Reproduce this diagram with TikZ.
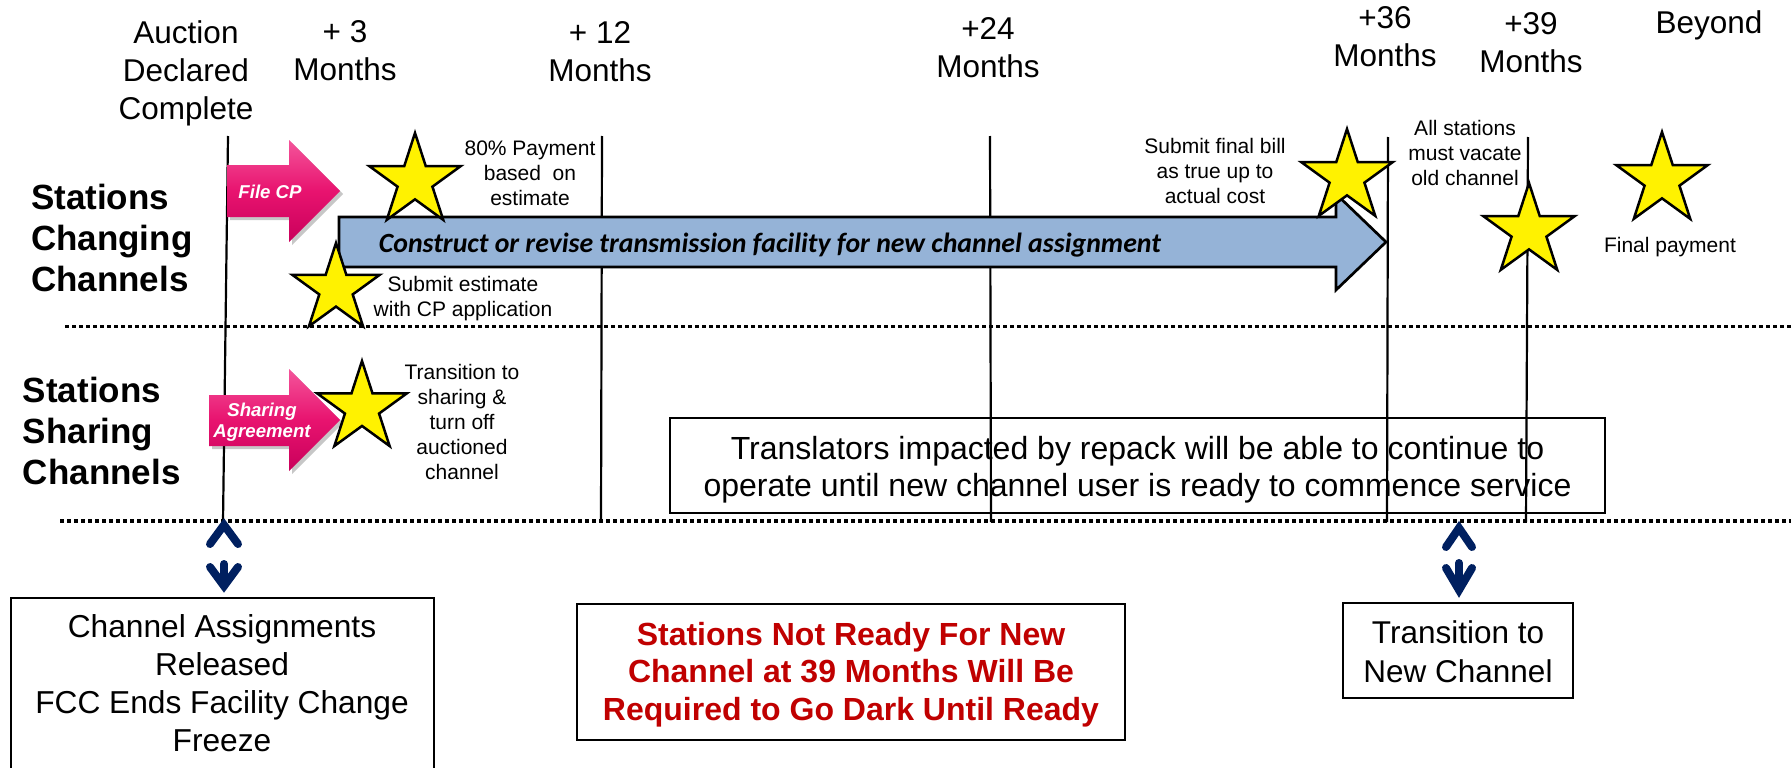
\documentclass[tikz,border=0pt]{standalone}
\usepackage{fontspec}
\setmainfont{Liberation Sans}
\newfontfamily\carlito{Carlito}
\usetikzlibrary{shapes.geometric}
\definecolor{navy}{HTML}{002060}
\definecolor{redtxt}{HTML}{C00000}
\definecolor{bluefill}{HTML}{95B3D7}
\definecolor{pinkA}{HTML}{F4559B}
\definecolor{pinkB}{HTML}{E8136F}
\definecolor{pinkC}{HTML}{C9005B}
\begin{document}
\begin{tikzpicture}[x=1pt,y=-1pt,
 every node/.style={inner sep=0pt,outer sep=0pt},
 toplbl/.style={align=center,anchor=north,font=\fontsize{31.5}{38}\selectfont,execute at begin node=\strut},
 rowlbl/.style={align=left,anchor=north west,font=\bfseries\fontsize{35}{41}\selectfont,execute at begin node=\strut},
 note/.style={align=center,anchor=north,font=\fontsize{21}{25}\selectfont,execute at begin node=\strut},
 boxtxt/.style={align=center,anchor=north,font=\fontsize{32}{37}\selectfont,execute at begin node=\strut},
 frame/.style={draw=black,line width=2.7pt,fill=white,rectangle},
 tline/.style={line width=2.2pt,draw=black},
 dotline/.style={line width=3.5pt,dash pattern=on 3.5pt off 3.5pt,draw=black},
 starnode/.style={star,star points=5,star point ratio=2.618,draw=black,line width=2.5pt,fill=yellow,minimum size=96pt},
 navyarr/.style={draw=navy,line width=8pt,line cap=round,line join=miter},
 pinkfill/.style={top color=pinkA,bottom color=pinkC,middle color=pinkB},
 bluearr/.style={draw=black,line width=2.7pt,fill=bluefill},
 pinktxt/.style={text=white,font=\bfseries\itshape\fontsize{18.6}{21}\selectfont,align=center}
]
\useasboundingbox (0,0) rectangle (1791,768);
\clip (0,0) rectangle (1791,768);

% translators box (under the timeline lines)
\node[frame,minimum width=935pt,minimum height=95pt] (btrans) at (1137.5,465.5) {};

% timeline lines
\coordinate (l0t) at (228,136);  \coordinate (l0b) at (223,522);
\coordinate (l12t) at (602,136); \coordinate (l12b) at (601,522);
\coordinate (l24t) at (990,136); \coordinate (l24b) at (991,522);
\coordinate (l36t) at (1388,137); \coordinate (l36b) at (1387,522);
\coordinate (l39t) at (1528,137); \coordinate (l39b) at (1526,522);
\draw[tline] (l0t) -- (l0b);
\draw[tline] (l12t) -- (l12b);
\draw[tline] (l24t) -- (l24b);
\draw[tline] (l36t) -- (l36b);
\draw[tline] (l39t) -- (l39b);

% dotted separators
\coordinate (d1a) at (65,326.5);  \coordinate (d1b) at (1791,326.5);
\coordinate (d2a) at (60,521);    \coordinate (d2b) at (1791,521);
\draw[dotline] (d1a) -- (d1b);
\draw[dotline] (d2a) -- (d2b);

% blue arrow
\draw[bluearr] (339,217) -- (1336,217) -- (1336,194) -- (1386,242) -- (1336,290) -- (1336,267) -- (339,267) -- cycle;
\node[anchor=base,font=\carlito\bfseries\itshape\fontsize{27.8}{32}\selectfont] (blue) at (770,252) {Construct or revise transmission facility for new channel assignment};

% pink arrows with shadow
\fill[black,opacity=0.22] (230,168) -- (292,168) -- (292,143) -- (343,194) -- (292,245) -- (292,220) -- (230,220) -- cycle;
\shade[pinkfill] (227,165) -- (289,165) -- (289,140) -- (340,191) -- (289,242) -- (289,217) -- (227,217) -- cycle;
\node[pinktxt,anchor=base] (filecp) at (270,198) {File CP};
\fill[black,opacity=0.22] (212,398) -- (292,398) -- (292,372) -- (343,423) -- (292,474) -- (292,449) -- (212,449) -- cycle;
\shade[pinkfill] (209,395) -- (289,395) -- (289,369) -- (340,420) -- (289,471) -- (289,446) -- (209,446) -- cycle;
\node[pinktxt,anchor=north,execute at begin node=\strut] (share) at (262,403.3) {Sharing\\Agreement};

% stars
\node[starnode] (s1) at (415,181) {};
\node[starnode,minimum size=92pt] (s2) at (336,289) {};
\node[starnode,minimum size=94pt] (s3) at (362,408) {};
\node[starnode] (s4) at (1347,177) {};
\node[starnode] (s5) at (1529,231) {};
\node[starnode] (s6) at (1662,180) {};

% top labels
\node[toplbl] (t0) at (186,20.4) {Auction\\Declared\\Complete};
\node[toplbl] (t3) at (345,20.4) {+ 3\\Months};
\node[toplbl] (t12) at (600,22) {+ 12\\Months};
\node[toplbl] (t24) at (988,17.4) {+24\\Months};
\node[toplbl] (t36) at (1385,6.4) {+36\\Months};
\node[toplbl] (t39) at (1531,12.4) {+39\\Months};
\node[toplbl] (tb) at (1709,7.4) {Beyond};

% row labels
\node[rowlbl] (rc) at (31,184.3) {Stations\\Changing\\Channels};
\node[rowlbl] (rs) at (23,377.3) {Stations\\Sharing\\Channels};

% notes
\node[note] (n80) at (530,140.5) {80\% Payment\\based\ \ on\\estimate};
\node[note] (nest) at (463,276.2) {Submit estimate\\with CP application};
\node[note] (nshare) at (462,364.2) {Transition to\\sharing \&\\turn off\\auctioned\\channel};
\node[note] (nbill) at (1215,138.5) {Submit final bill\\as true up to\\actual cost};
\node[note] (nvac) at (1465,119.8) {All stations\\must vacate\\old channel};
\node[note] (nfin) at (1670,235.2) {Final payment};

% translators text
\node[boxtxt] (ttrans) at (1137.5,436.1) {Translators impacted by repack will be able to continue to\\operate until new channel user is ready to commence service};

% bottom boxes
\node[frame,minimum width=423pt,minimum height=220pt] (bchan) at (222.5,708) {};
\node[boxtxt,font=\fontsize{31.7}{38}\selectfont] (tchan) at (222,614.9) {Channel Assignments\\Released\\FCC Ends Facility Change\\Freeze};
\node[frame,minimum width=548pt,minimum height=136pt] (bred) at (851,672) {};
\node[boxtxt,font=\bfseries\fontsize{32}{37.5}\selectfont,text=redtxt] (tred) at (851,622.1) {Stations Not Ready For New\\Channel at 39 Months Will Be\\Required to Go Dark Until Ready};
\node[frame,minimum width=230pt,minimum height=95pt] (bnew) at (1458,650.5) {};
\node[boxtxt,font=\fontsize{31.5}{38.5}\selectfont] (tnew) at (1458,621) {Transition to\\New Channel};

% navy double arrows
\coordinate (ua) at (224,525);
\draw[navyarr] (210,544) -- (ua) -- (238,544);
\coordinate (da) at (224,586);
\draw[navyarr] (224,564) -- (da);
\draw[navyarr] (210,567) -- (da) -- (238,567);
\coordinate (ub) at (1459,528);
\draw[navyarr] (1446,547) -- (ub) -- (1472,547);
\coordinate (db) at (1459,590);
\draw[navyarr] (1459,563) -- (db);
\draw[navyarr] (1446,568) -- (db) -- (1472,568);
\end{tikzpicture}
\end{document}
